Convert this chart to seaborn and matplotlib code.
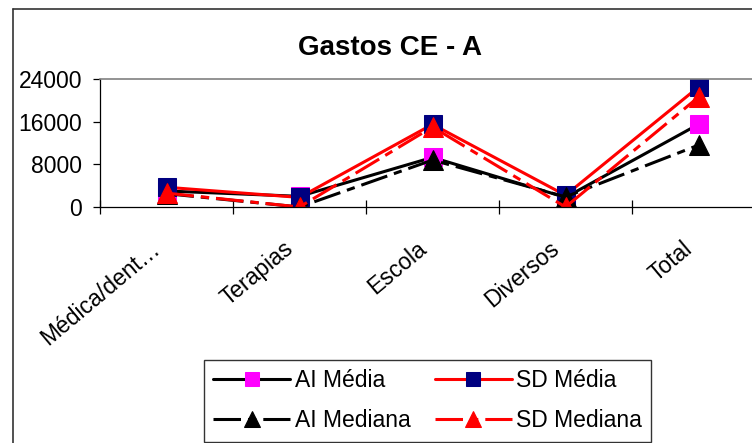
import matplotlib
matplotlib.use("Agg")
import matplotlib.pyplot as plt
from matplotlib.lines import Line2D
from matplotlib.transforms import ScaledTranslation
import seaborn as sns
import pandas as pd
import numpy as np

categories = ["Médica/dent…", "Terapias", "Escola", "Diversos", "Total"]
ai_media = [3000, 2000, 9300, 1800, 15500]
sd_media = [3700, 1800, 15500, 2200, 22500]
ai_mediana = [2500, 0, 8800, 1900, 11600]
sd_mediana = [2600, 0, 15000, 0, 20600]
series_names = ["AI Média", "SD Média", "AI Mediana", "SD Mediana"]
yticks = [0, 8000, 16000, 24000]

sns.set_theme(style="white")
plt.rcParams["font.family"] = ["Liberation Sans", "DejaVu Sans"]
plt.rcParams["text.color"] = "black"
plt.rcParams["xtick.color"] = "black"
plt.rcParams["ytick.color"] = "black"
plt.rcParams["xtick.labelcolor"] = "black"
plt.rcParams["ytick.labelcolor"] = "black"

fig = plt.figure(figsize=(7.52, 4.43), dpi=100)
W, H = 752, 443
ax = fig.add_axes([100 / W, 1 - 207 / H, 665 / W, 128 / H])

x = np.arange(len(categories))
dashdot = (0, (9, 2.3, 2.7, 2.3))
styles = [
    dict(values=ai_media, color="black", marker="s", mfc="#FF00FF", mec="#FF00FF", ls="-", ms=13),
    dict(values=sd_media, color="#FF0000", marker="s", mfc="#000080", mec="#000080", ls="-", ms=13),
    dict(values=ai_mediana, color="black", marker="^", mfc="black", mec="black", ls=dashdot, ms=14),
    dict(values=sd_mediana, color="#FF0000", marker="^", mfc="#FF0000", mec="#FF0000", ls=dashdot, ms=14),
]
for name, st in zip(series_names, styles):
    df = pd.DataFrame({"x": x, "y": st["values"]})
    sns.lineplot(data=df, x="x", y="y", ax=ax, color=st["color"], marker=st["marker"],
                 markerfacecolor=st["mfc"], markeredgecolor=st["mec"], markersize=st["ms"],
                 linestyle=st["ls"], linewidth=2.2, label=name, legend=False, sort=False)

ax.set_xlim(-0.5, len(categories) - 0.5)
ax.set_ylim(0, 24000)
ax.set_yticks(yticks)
ax.set_yticklabels([str(v) for v in yticks], fontsize=16.5)
ax.set_xticks(np.arange(-0.5, len(categories)))
ax.set_xticklabels([])
ax.set_xticks(x, categories, minor=True)
ax.set_xlabel("")
ax.set_ylabel("")
ax.tick_params(axis="y", which="major", direction="out", length=5, width=0.9, color="black", pad=8, left=True)
ax.tick_params(axis="x", which="major", direction="inout", length=10, width=0.9, color="black", bottom=True)
ax.tick_params(axis="x", which="minor", length=0, pad=28, labelsize=16.5)
off = ScaledTranslation(-9 / 100, 0, fig.dpi_scale_trans)
for lab in ax.get_xticklabels(minor=True):
    lab.set_rotation(40)
    lab.set_ha("right")
    lab.set_va("center")
    lab.set_rotation_mode("anchor")
    lab.set_transform(lab.get_transform() + off)

for s in ["left", "bottom"]:
    ax.spines[s].set_color("black")
    ax.spines[s].set_linewidth(0.9)
ax.spines["top"].set_color("#808080")
ax.spines["top"].set_linewidth(1.2)
ax.spines["right"].set_visible(False)
ax.grid(False)
ax.patch.set_alpha(0)

fig.text(390 / W, 1 - 55 / H, "Gastos CE - A", ha="center", va="baseline",
         fontsize=20, fontweight="bold", color="black")

# outer chart border (left and top visible)
fig.add_artist(Line2D([13 / W, 13 / W], [0, 1 - 9 / H], color="#333333", lw=1.2, transform=fig.transFigure))
fig.add_artist(Line2D([13 / W, 1], [1 - 9 / H, 1 - 9 / H], color="#333333", lw=1.2, transform=fig.transFigure))

lines = ax.get_lines()[:4]
order = [0, 2, 1, 3]
leg = fig.legend([lines[i] for i in order], [series_names[i] for i in order],
                 loc="upper left", bbox_to_anchor=(204 / W, 1 - 360 / H),
                 ncol=2, fontsize=16.5, frameon=True, fancybox=False, edgecolor="black",
                 handlelength=3.36, markerscale=0.8, numpoints=1, borderpad=0.4,
                 labelspacing=0.75, columnspacing=1.05, handletextpad=0.2, borderaxespad=0)
leg.get_frame().set_linewidth(1.0)
for t in leg.get_texts():
    t.set_color("black")

fig.savefig("out.png", dpi=100)
